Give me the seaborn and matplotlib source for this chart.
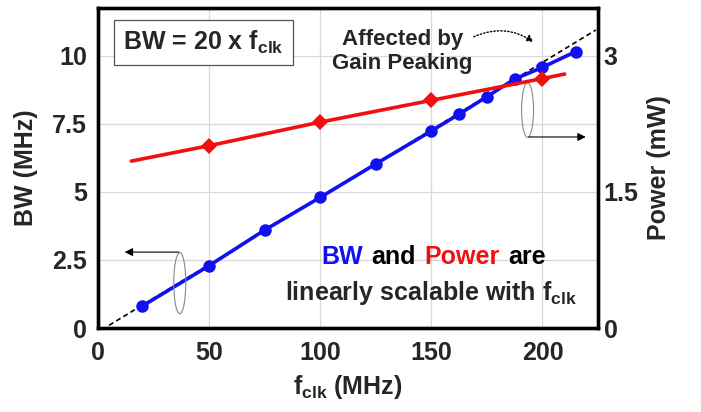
import matplotlib
matplotlib.use("Agg")
import matplotlib.pyplot as plt
from matplotlib.patches import Ellipse
from matplotlib.offsetbox import TextArea, HPacker, AnnotationBbox
import seaborn as sns
import pandas as pd

# ---- data ----
fclk_bw = [20, 50, 75, 100, 125, 150, 162.5, 175, 187.5, 200, 215]
bw_mhz = [0.81, 2.29, 3.6, 4.8, 6.03, 7.24, 7.86, 8.5, 9.15, 9.58, 10.16]
fclk_pw = [15, 50, 100, 150, 200, 210]
power_mw = [1.84, 2.01, 2.27, 2.51, 2.75, 2.80]
ideal_fclk = [5, 224]
ideal_bw = [0.1, 10.95]
x_ticks = [0, 50, 100, 150, 200]
bw_ticks = [0, 2.5, 5, 7.5, 10]
bw_ticklabels = ["0", "2.5", "5", "7.5", "10"]
pw_ticks = [0, 1.5, 3]
pw_ticklabels = ["0", "1.5", "3"]

sns.set_style("white")
FONT = ["Liberation Sans", "DejaVu Sans"]
plt.rcParams["font.family"] = FONT
plt.rcParams["font.weight"] = "bold"
plt.rcParams["mathtext.fontset"] = "custom"
plt.rcParams["mathtext.rm"] = "Liberation Sans:bold"
plt.rcParams["mathtext.it"] = "Liberation Sans:bold"
plt.rcParams["mathtext.bf"] = "Liberation Sans:bold"

BLUE = "#1010f0"
RED = "#f01010"

fig = plt.figure(figsize=(7.01, 4.12), dpi=100)
ax = fig.add_axes([98 / 701, 1 - 328 / 412, 500 / 701, 320 / 412])
ax2 = ax.twinx()

XMAX = 224.5
YMAX = 11.76
SCALE = 0.3

ax.set_xlim(0, XMAX)
ax.set_ylim(0, YMAX)
ax2.set_ylim(0, YMAX * SCALE)

# grid
for xv in [50, 100, 150, 200]:
    ax.axvline(xv, color="#d8d8d8", lw=0.9, zorder=0)
for yv in [2.5, 5, 7.5, 10]:
    ax.axhline(yv, color="#d8d8d8", lw=0.9, zorder=0)

df_ideal = pd.DataFrame({"f": ideal_fclk, "bw": ideal_bw})
sns.lineplot(data=df_ideal, x="f", y="bw", ax=ax, color="black", lw=1.2,
             linestyle=(0, (3, 2)), zorder=2)

df_bw = pd.DataFrame({"f": fclk_bw, "bw": bw_mhz})
sns.lineplot(data=df_bw, x="f", y="bw", ax=ax, color=BLUE, lw=2.6,
             marker="o", markersize=9, markeredgewidth=0, zorder=3)

df_pw = pd.DataFrame({"f": fclk_pw, "p": power_mw})
sns.lineplot(data=df_pw, x="f", y="p", ax=ax2, color=RED, lw=2.6,
             marker="D", markersize=8.5, markeredgewidth=0,
             markevery=[1, 2, 3, 4], zorder=3)

# ticks
ax.set_xticks(x_ticks)
ax.set_xticklabels([str(v) for v in x_ticks])
ax.set_xticks([25, 75, 125, 175, 225], minor=True)
ax.set_yticks(bw_ticks)
ax.set_yticklabels(bw_ticklabels)
ax2.set_yticks(pw_ticks)
ax2.set_yticklabels(pw_ticklabels)

ax.tick_params(axis="x", which="both", direction="in", length=5, width=1,
               labelsize=18, pad=9)
ax.tick_params(axis="y", which="both", length=0, labelsize=18, pad=8)
ax2.tick_params(axis="y", length=0, labelsize=18, pad=4)

for a in (ax, ax2):
    for s in a.spines.values():
        s.set_linewidth(2.4)
        s.set_color("black")

ax.set_xlabel(r"f$_{\mathrm{clk}}$ (MHz)", fontsize=18, fontweight="bold", labelpad=6)
ax.set_ylabel("BW (MHz)", fontsize=18, fontweight="bold", labelpad=10)
ax2.set_ylabel("Power (mW)", fontsize=18, fontweight="bold", labelpad=6)

# annotations
ax.text(47.5, 10.48, r"BW = 20 x f$_{\mathrm{clk}}$", fontsize=18, fontweight="bold",
        ha="center", va="center", zorder=5,
        bbox=dict(boxstyle="square,pad=0.35", fc="white", ec="#555555", lw=0.9))

ax.text(137, 10.15, "Affected by\nGain Peaking", fontsize=16, fontweight="bold",
        ha="center", va="center", linespacing=1.2, zorder=5)

ax.annotate("", xy=(197, 10.45), xytext=(168, 10.66),
            arrowprops=dict(arrowstyle="-|>", color="black", lw=1.0,
                            linestyle=(0, (1, 1.5)),
                            connectionstyle="arc3,rad=-0.3",
                            mutation_scale=10), zorder=5)

parts = [TextArea(t, textprops=dict(color=c, fontsize=18, fontweight="bold",
                                     family=FONT))
         for t, c in [("BW", BLUE), ("and", "black"), ("Power", RED), ("are", "black")]]
hp = HPacker(children=parts, align="baseline", pad=0, sep=6)
ab = AnnotationBbox(hp, (151, 2.61), xycoords="data", frameon=False,
                    box_alignment=(0.5, 0.5), zorder=5)
ax.add_artist(ab)

ax.text(150, 1.29, r"linearly scalable with f$_{\mathrm{clk}}$", fontsize=18,
        fontweight="bold", ha="center", va="center", zorder=5)

# ellipses with arrows
ax.add_patch(Ellipse((36.8, 1.65), 5.4, 2.25, fill=False, ec="#888888", lw=0.8, zorder=4))
ax.annotate("", xy=(12, 2.79), xytext=(36.3, 2.79),
            arrowprops=dict(arrowstyle="-|>", color="black", lw=0.8,
                            shrinkA=0, shrinkB=0, mutation_scale=12), zorder=4)
ax.add_patch(Ellipse((193.3, 8.01), 5.4, 2.0, fill=False, ec="#888888", lw=0.8, zorder=4))
ax.annotate("", xy=(219.5, 7.02), xytext=(193.8, 7.02),
            arrowprops=dict(arrowstyle="-|>", color="black", lw=0.8,
                            shrinkA=0, shrinkB=0, mutation_scale=12), zorder=4)

fig.savefig("out.png", dpi=100, facecolor="white")
